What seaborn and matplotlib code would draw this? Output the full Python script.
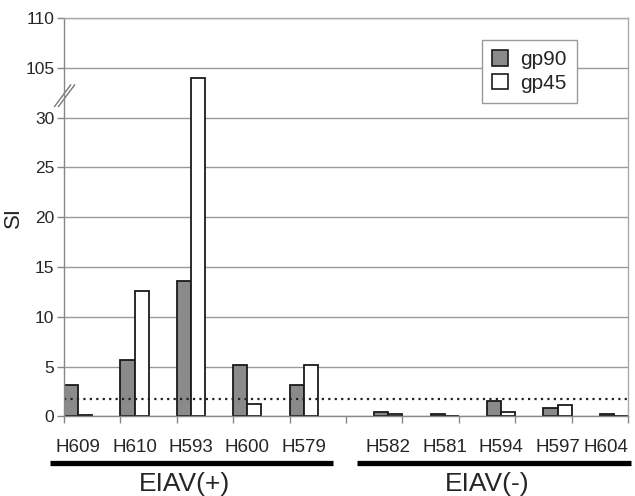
import numpy as np
import pandas as pd
import seaborn as sns
import matplotlib.pyplot as plt
from matplotlib.patches import Patch
import matplotlib.transforms as mtransforms


horses = ["H609", "H610", "H593", "H600", "H579",
          "H582", "H581", "H594", "H597", "H604"]
status = ["EIAV(+)"] * 5 + ["EIAV(-)"] * 5
gp90 = [3.2, 5.7, 13.6, 5.2, 3.2, 0.5, 0.3, 1.6, 0.85, 0.3]
gp45 = [0.15, 12.6, 104.0, 1.25, 5.2, 0.2, 0.0, 0.45, 1.2, 0.0]
threshold = 1.8

ytick_labels = ["0", "5", "10", "15", "20", "25", "30", "105", "110"]
break_low, break_high = 30, 100   # axis is cut between 30 and 100


def to_axis(v):
    """map a value onto the broken axis"""
    return v if v <= break_low else v - (break_high - break_low)


# slot positions: EIAV(+) bars sit in the left half of a slot,
# EIAV(-) bars in the right half
slot_pos = [i + (0.25 if s == "EIAV(+)" else 0.75)
            for i, s in enumerate(status)]

df = pd.DataFrame({
    "horse": horses * 2,
    "pos": slot_pos * 2,
    "antigen": ["gp90"] * len(horses) + ["gp45"] * len(horses),
    "SI": gp90 + gp45,
})
df["shown"] = df["SI"].apply(to_axis)

sns.set_style("white")
plt.rcParams["font.family"] = ["Liberation Sans", "DejaVu Sans"]

fig = plt.figure(figsize=(6.35, 4.96), dpi=100)
ax = fig.add_axes([0.1008, 0.1603, 0.8882, 0.8034])

palette = {"gp90": "#8a8a8a", "gp45": "white"}
sns.barplot(data=df, x="pos", y="shown", hue="antigen", hue_order=["gp90", "gp45"],
            palette=palette, native_scale=True, width=0.5, dodge=True,
            edgecolor="#1a1a1a", linewidth=1.3, errorbar=None, legend=False, ax=ax)

ax.set_xlim(0, 10)
ax.set_ylim(0, 40)

# y axis with the cut
ax.set_yticks(np.arange(0, 41, 5), ytick_labels)
ax.yaxis.grid(True, color="#9a9a9a", lw=1)
ax.set_axisbelow(True)
ax.set_ylabel("SI", fontsize=16, labelpad=1)
ax.tick_params(axis="y", left=True, length=5, width=1, color="#888888",
               labelsize=12.5, pad=2)
for dx in (0.0, 0.07):
    ax.plot([-0.17 + dx, 0.12 + dx], [31.1, 33.3], color="#777777", lw=1,
            clip_on=False)

# x axis: labels centred on bar pairs, marks at slot boundaries
ax.set_xticks(slot_pos, horses)
ax.set_xticks(np.arange(0, 11), minor=True)
ax.tick_params(axis="x", which="major", length=0, labelsize=13.5, pad=16)
ax.tick_params(axis="x", which="minor", bottom=True, length=5, width=1,
               color="#888888")
ax.set_xlabel("")
# last label is pulled in so it stays inside the figure
last = ax.get_xticklabels()[-1]
last.set_transform(last.get_transform()
                   + mtransforms.ScaledTranslation(-0.08, 0, fig.dpi_scale_trans))

for side in ["left", "bottom"]:
    ax.spines[side].set_color("#888888")
for side in ["top", "right"]:
    ax.spines[side].set_color("#aaaaaa")
for sp in ax.spines.values():
    sp.set_linewidth(1)

# positivity cut-off
ax.axhline(threshold, color="#222222", lw=1.6, ls=(0, (1, 1.9)))

# group bars underneath the labels
trans = mtransforms.blended_transform_factory(ax.transData, ax.transAxes)
groups = [("EIAV(+)", -0.25, 4.77, 2.13), ("EIAV(-)", 5.2, 10.05, 7.5)]
for name, x0, x1, xc in groups:
    ax.plot([x0, x1], [-0.116, -0.116], color="black", lw=3.8,
            solid_capstyle="butt", transform=trans, clip_on=False)
    ax.text(xc, -0.17, name, transform=trans, ha="center", va="center",
            fontsize=19)

handles = [Patch(facecolor=palette[k], edgecolor="#1a1a1a", lw=1.2, label=k)
           for k in ["gp90", "gp45"]]
leg = ax.legend(handles=handles, loc="upper left", bbox_to_anchor=(0.741, 0.945),
                fontsize=15, frameon=True, fancybox=False, framealpha=1,
                handlelength=0.75, handleheight=0.75, handletextpad=0.6,
                borderpad=0.5, labelspacing=0.2, borderaxespad=0)
leg.get_frame().set_edgecolor("#999999")
leg.get_frame().set_linewidth(1)

fig.savefig("out.png", dpi=100)
